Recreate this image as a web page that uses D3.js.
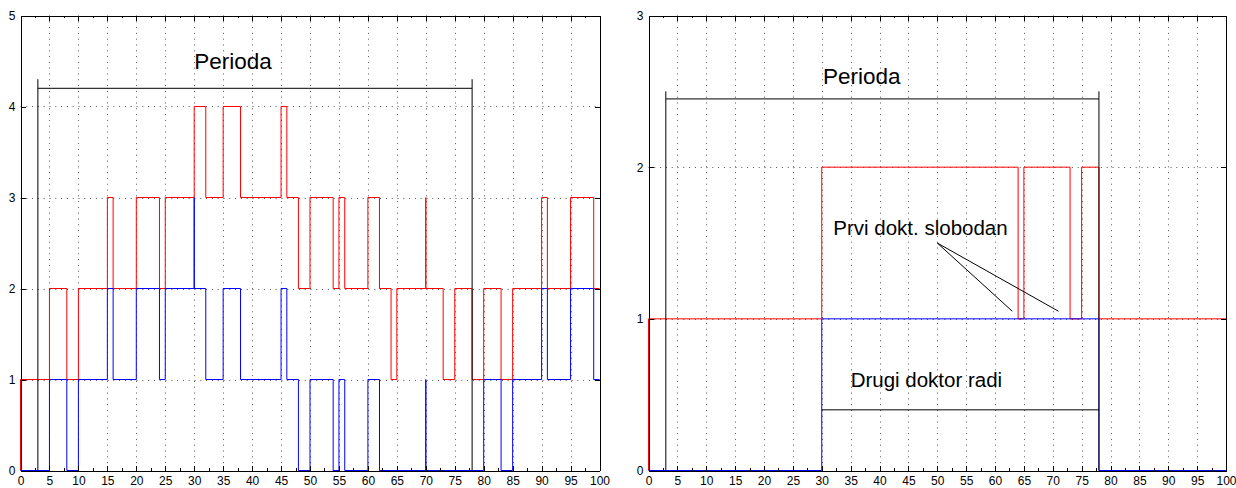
<!DOCTYPE html>
<html>
<head>
<meta charset="utf-8">
<script src="https://cdn.jsdelivr.net/npm/d3@7"></script>
<style>
  body { margin: 0; background: #fff; }
  svg { display: block; font-family: "Liberation Sans", Arial, Helvetica, sans-serif; }
  .grid line { stroke: #555; stroke-dasharray: 1 4.8; }
  .axis path, .axis line { stroke: #000; shape-rendering: crispEdges; }
  .axis text { font-size: 12px; fill: #000; }
  .stairs { fill: none; stroke-width: 1; }
  .note { stroke: #000; fill: none; stroke-width: 1; }
</style>
</head>
<body>
<div id="chart"></div>
<script>
// left panel: red and blue stairs (time of change, value)
const leftRedT = [0, 0, 5, 8, 10, 15, 16, 20, 24, 25, 30, 32, 35, 38, 45, 46, 48, 50, 54, 55, 56, 60, 62, 64, 65, 70, 70, 73, 75, 78, 80, 83, 85, 90, 91, 95, 99, 100];
const leftRedV = [0, 1, 2, 1, 2, 3, 2, 3, 2, 3, 4, 3, 4, 3, 4, 3, 2, 3, 2, 3, 2, 3, 2, 1, 2, 3, 2, 1, 2, 1, 2, 1, 2, 3, 2, 3, 2, 2];
const leftBlueT = [0, 5, 8, 10, 15, 16, 20, 24, 25, 30, 30, 32, 35, 38, 45, 46, 48, 50, 54, 55, 56, 60, 62, 70, 70, 80, 83, 85, 90, 91, 95, 99, 100];
const leftBlueV = [0, 1, 0, 1, 2, 1, 2, 1, 2, 3, 2, 1, 2, 1, 2, 1, 0, 1, 0, 1, 0, 1, 0, 1, 0, 1, 0, 1, 2, 1, 2, 1, 1];

// right panel
const rightRedT = [0, 0, 30, 64, 65, 73, 75, 78, 100];
const rightRedV = [0, 1, 2, 1, 2, 1, 2, 1, 1];
const rightBlueT = [0, 30, 78, 100];
const rightBlueV = [0, 1, 0, 0];

const xTicks = d3.range(0, 101, 5);
const xMinorTicks = d3.range(2.5, 100, 5);
const leftYTicks = [0, 1, 2, 3, 4, 5];
const rightYTicks = [0, 1, 2, 3];

// annotations, in data units
const leftPeriod = { x0: 3, x1: 78, y: 4.2, top: 4.3, label: "Perioda", lx: 30, ly: 4.41 };
const rightPeriod = { x0: 3, x1: 78, y: 2.45, top: 2.5, label: "Perioda", lx: 30.2, ly: 2.55 };
const freeLabel = { text: "Prvi dokt. slobodan", x: 32, y: 1.552 };
const freeArrows = [[50, 1.5, 63, 1.05], [50, 1.5, 71, 1.05]];
const workLabel = { text: "Drugi doktor radi", x: 35, y: 0.551 };
const workLine = [30, 78, 0.4];

const width = 1236;
const height = 488;

const svg = d3.select("#chart").append("svg")
  .attr("width", width)
  .attr("height", height);

function zip(t, v) {
  return t.map((d, i) => [d, v[i]]);
}

function panel({ left, right, top, bottom, yMax, yTicks }) {
  const x = d3.scaleLinear().domain([0, 100]).range([left, right]);
  const y = d3.scaleLinear().domain([0, yMax]).range([bottom, top]);
  const g = svg.append("g");

  // dotted grid
  const grid = g.append("g").attr("class", "grid");
  grid.selectAll(".gx")
    .data(xTicks.slice(1, -1))
    .join("line")
    .attr("x1", (d) => Math.round(x(d)) + 0.5)
    .attr("x2", (d) => Math.round(x(d)) + 0.5)
    .attr("y1", top)
    .attr("y2", bottom);
  grid.selectAll(".gy")
    .data(yTicks.slice(1, -1))
    .join("line")
    .attr("y1", (d) => Math.round(y(d)) + 0.5)
    .attr("y2", (d) => Math.round(y(d)) + 0.5)
    .attr("x1", left)
    .attr("x2", right);

  const line = d3.line()
    .x((d) => x(d[0]))
    .y((d) => y(d[1]))
    .curve(d3.curveStepAfter);

  return { x, y, g, line };
}

function axes(p, yTicks) {
  const { x, y, g } = p;
  const [x0, x1] = x.range();
  const [y0, y1] = y.range();
  const fmt = d3.format("d");

  g.append("g")
    .attr("class", "axis")
    .attr("transform", `translate(0,${y0})`)
    .call(d3.axisBottom(x).tickValues(xTicks).tickSize(-5).tickSizeOuter(0).tickPadding(6).tickFormat(fmt));
  g.append("g")
    .attr("class", "axis")
    .attr("transform", `translate(0,${y0})`)
    .call(d3.axisBottom(x).tickValues(xMinorTicks).tickSize(-2.5).tickSizeOuter(0).tickFormat(""));
  g.append("g")
    .attr("class", "axis")
    .attr("transform", `translate(0,${y1})`)
    .call(d3.axisTop(x).tickValues(xTicks).tickSize(-5).tickSizeOuter(0).tickFormat(""));
  g.append("g")
    .attr("class", "axis")
    .attr("transform", `translate(0,${y1})`)
    .call(d3.axisTop(x).tickValues(xMinorTicks).tickSize(-2.5).tickSizeOuter(0).tickFormat(""));
  g.append("g")
    .attr("class", "axis")
    .attr("transform", `translate(${x0},0)`)
    .call(d3.axisLeft(y).tickValues(yTicks).tickSize(-5).tickSizeOuter(0).tickPadding(5).tickFormat(fmt));
  g.append("g")
    .attr("class", "axis")
    .attr("transform", `translate(${x1},0)`)
    .call(d3.axisRight(y).tickValues(yTicks).tickSize(-5).tickSizeOuter(0).tickFormat(""));

  g.selectAll(".axis .domain").attr("stroke-width", 1);
}

function period(p, d) {
  const { x, y, g } = p;
  g.append("path")
    .attr("class", "note")
    .attr("d", `M${x(d.x0)},${y(0)}V${y(d.top)}M${x(d.x1)},${y(0)}V${y(d.top)}` +
      `M${x(d.x0)},${y(d.y)}H${x(d.x1)}`);
  g.append("text")
    .attr("x", x(d.lx))
    .attr("y", y(d.ly))
    .attr("font-size", 22.5)
    .text(d.label);
}

// left panel
const pl = panel({ left: 20.5, right: 599.5, top: 15.5, bottom: 470.5, yMax: 5, yTicks: leftYTicks });
pl.g.append("path").attr("class", "stairs").attr("stroke", "#ff0000")
  .attr("d", pl.line(zip(leftRedT, leftRedV)));
pl.g.append("path").attr("class", "stairs").attr("stroke", "#0000ff")
  .attr("d", pl.line(zip(leftBlueT, leftBlueV)));
period(pl, leftPeriod);
axes(pl, leftYTicks);

// right panel
const pr = panel({ left: 648.5, right: 1226, top: 15.5, bottom: 470.5, yMax: 3, yTicks: rightYTicks });
pr.g.append("path").attr("class", "stairs").attr("stroke", "#ff0000")
  .attr("d", pr.line(zip(rightRedT, rightRedV)));
pr.g.append("path").attr("class", "stairs").attr("stroke", "#0000ff")
  .attr("d", pr.line(zip(rightBlueT, rightBlueV)));
period(pr, rightPeriod);

pr.g.append("text")
  .attr("x", pr.x(freeLabel.x))
  .attr("y", pr.y(freeLabel.y))
  .attr("font-size", 20.5)
  .text(freeLabel.text);
pr.g.selectAll(".arrow")
  .data(freeArrows)
  .join("line")
  .attr("class", "note")
  .attr("x1", (d) => pr.x(d[0]))
  .attr("y1", (d) => pr.y(d[1]))
  .attr("x2", (d) => pr.x(d[2]))
  .attr("y2", (d) => pr.y(d[3]));

pr.g.append("text")
  .attr("x", pr.x(workLabel.x))
  .attr("y", pr.y(workLabel.y))
  .attr("font-size", 20.5)
  .text(workLabel.text);
pr.g.append("line")
  .attr("class", "note")
  .attr("x1", pr.x(workLine[0]))
  .attr("x2", pr.x(workLine[1]))
  .attr("y1", pr.y(workLine[2]))
  .attr("y2", pr.y(workLine[2]));

axes(pr, rightYTicks);
</script>
</body>
</html>
